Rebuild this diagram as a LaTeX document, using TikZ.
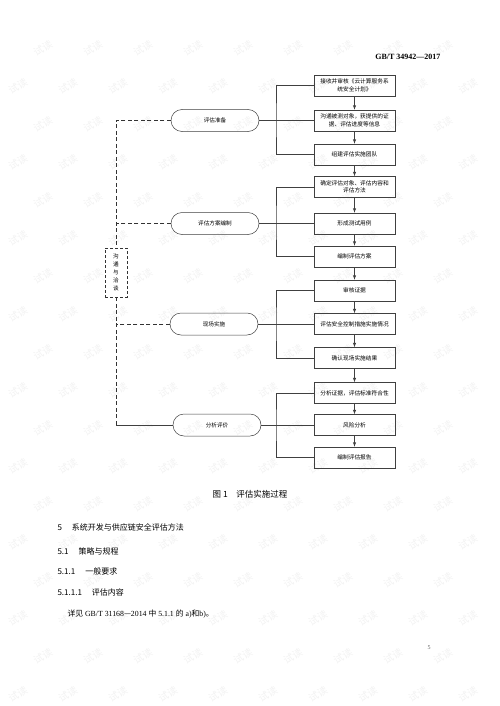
\documentclass[tikz,border=0pt]{standalone}
\usepackage{fontspec}
\setmainfont{Liberation Serif}
\newfontfamily\cjk{Noto Sans CJK SC}
\usepackage{tikz}
\usetikzlibrary{arrows}

\tikzset{
  stepbox/.style={draw=black!75, line width=0.5pt, minimum width=81pt, minimum height=21pt,
                  inner sep=1pt, text width=77pt, align=center,
                  font=\cjk\fontsize{5.7}{7.4}\selectfont},
  phase/.style={draw=black!75, line width=0.5pt, rounded corners=11pt, minimum width=88pt,
                minimum height=22pt, font=\cjk\fontsize{5.6}{7}\selectfont},
  talkbox/.style={draw=black!80, dash pattern=on 3pt off 2pt, line width=0.7pt,
                  minimum width=22pt, minimum height=49pt, inner sep=1pt, align=center,
                  font=\cjk\fontsize{5.6}{8}\selectfont},
  dashline/.style={draw=black!80, dash pattern=on 4pt off 2.5pt, line width=0.7pt},
  link/.style={draw=black!75, line width=0.5pt},
  flow/.style={link, -latex},
  wmark/.style={rotate=30, text=black!5, inner sep=0pt, font=\cjk\fontsize{10}{10}\selectfont},
}

\begin{document}
\begin{tikzpicture}[x=1pt, y=-1pt]
        \useasboundingbox (0,0) rectangle (499,706);

        % watermark
        \foreach \r in {0,...,17} {
          \pgfmathtruncatemacro\lastcol{9-mod(\r,2)}
          \foreach \c in {0,...,\lastcol}
            \node[wmark] (w\r-\c) at ({mod(\r,2)*25+18+50*\c}, {694-38*\r}) {试读};
        }

        % steps on the right
        \node[stepbox] (b1) at (354.5, 85.5) {接收并审核《云计算服务系\\统安全计划》};
        \node[stepbox] (b2) at (354.5, 120.5) {沟通被测对象，获提供的证\\据、评估进度等信息};
        \node[stepbox] (b3) at (354.5, 154.5) {组建评估实施团队};
        \node[stepbox] (b4) at (354.5, 187) {确定评估对象、评估内容和\\评估方法};
        \node[stepbox] (b5) at (354.5, 223.5) {形成测试用例};
        \node[stepbox] (b6) at (354.5, 256.5) {编制评估方案};
        \node[stepbox] (b7) at (354.5, 290.5) {审核证据};
        \node[stepbox] (b8) at (354.5, 324) {评估安全控制措施实施情况};
        \node[stepbox] (b9) at (354.5, 358) {确认现场实施结果};
        \node[stepbox] (b10) at (354.5, 393) {分析证据，评估标准符合性};
        \node[stepbox] (b11) at (354.5, 425) {风险分析};
        \node[stepbox] (b12) at (354.5, 457.5) {编制评估报告};

        \foreach \a/\b in {b1/b2, b2/b3, b3/b4, b4/b5, b5/b6, b6/b7,
                           b7/b8, b8/b9, b9/b10, b10/b11, b11/b12}
          \draw[flow] (\a) -- (\b);

        % phases
        \node[phase] (s1) at (215, 120.5) {评估准备};
        \node[phase] (s2) at (215, 223.5) {评估方案编制};
        \node[phase] (s3) at (214, 324) {现场实施};
        \node[phase] (s4) at (217, 425) {分析评价};

        \coordinate (k1) at (276, 120.5);
        \coordinate (k2) at (276, 223.5);
        \coordinate (k3) at (276, 324);
        \coordinate (k4) at (276, 425);

        \draw[link] (b1.west) -| (k1) |- (b3.west);
        \draw[link] (s1.east) -- (b2.west);
        \draw[link] (b4.west) -| (k2) |- (b6.west);
        \draw[link] (s2.east) -- (b5.west);
        \draw[link] (b7.west) -| (k3) |- (b9.west);
        \draw[link] (s3.east) -- (b8.west);
        \draw[link] (b10.west) -| (k4) |- (b12.west);
        \draw[link] (s4.east) -- (b11.west);

        % communication
        \node[talkbox] (talk) at (116, 272.5) {沟\\通\\与\\洽\\谈};
        \coordinate (d1) at (116, 120.5);
        \coordinate (d2) at (116, 223.5);
        \coordinate (d3) at (116, 324);
        \coordinate (d4) at (116, 425);

        \draw[dashline] (s1.west) -- (d1) -- (talk.north);
        \draw[dashline] (s2.west) -- (d2);
        \draw[dashline] (talk.south) -- (d4);
        \draw[dashline] (s3.west) -- (d3);
        \draw[link, line width=0.6pt] (d4) -- (s4.west);

        % page text
        \node[anchor=east, font=\bfseries\fontsize{8}{8}\selectfont] (hdr) at (444, 57)
             {GB/T\ 34942—2017};
        \node[font=\cjk\fontsize{8.5}{9}\selectfont] (cap) at (250, 494)
             {图\ 1\quad 评估实施过程};
        \node[anchor=west, font=\cjk\fontsize{8}{9}\selectfont] (h1) at (54, 527)
             {5\hspace{10pt}系统开发与供应链安全评估方法};
        \node[anchor=west, font=\cjk\fontsize{8}{9}\selectfont] (h2) at (54, 551)
             {5.1\hspace{10pt}策略与规程};
        \node[anchor=west, font=\cjk\fontsize{8}{9}\selectfont] (h3) at (54, 571)
             {5.1.1\hspace{10pt}一般要求};
        \node[anchor=west, font=\cjk\fontsize{8}{9}\selectfont] (h4) at (54, 592)
             {5.1.1.1\hspace{10pt}评估内容};
        \node[anchor=west, font=\fontsize{7.8}{9}\selectfont] (body) at (64, 614)
             {{\cjk 详见} GB/T 31168{\cjk —}2014 {\cjk 中} 5.1.1 {\cjk 的} a){\cjk 和}b){\cjk 。}};
        \node[font=\fontsize{6}{6}\selectfont, text=black!60] (pg) at (429, 648) {5};
\end{tikzpicture}
\end{document}
